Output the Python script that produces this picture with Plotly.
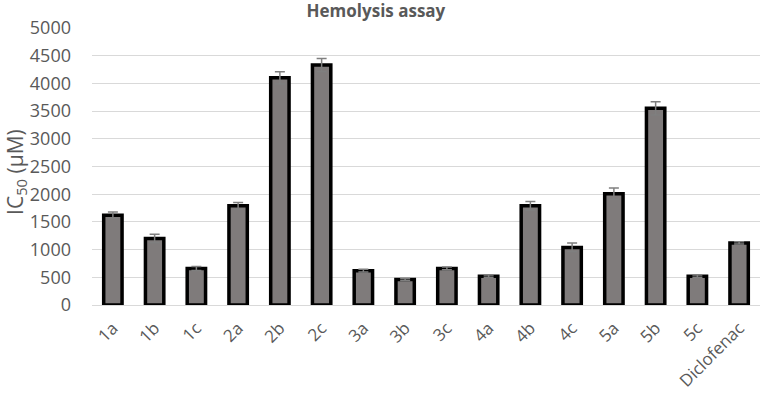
import plotly.graph_objects as go

categories = ["1a", "1b", "1c", "2a", "2b", "2c", "3a", "3b", "3c", "4a",
              "4b", "4c", "5a", "5b", "5c", "Diclofenac"]
ic50_values = [1620, 1200, 660, 1790, 4100, 4330, 620, 460, 660, 520,
               1790, 1040, 2010, 3550, 520, 1120]
ic50_errors = [60, 75, 35, 60, 110, 120, 25, 20, 25, 20,
               80, 80, 100, 120, 20, 20]
y_ticks = [0, 500, 1000, 1500, 2000, 2500, 3000, 3500, 4000, 4500, 5000]

grey_text = "#595959"
font_family = "Open Sans, DejaVu Sans, sans-serif"

fig = go.Figure()
fig.add_trace(go.Bar(
    x=categories,
    y=ic50_values,
    marker=dict(color="#7f7b7b", line=dict(color="#000000", width=3.5)),
    error_y=dict(type="data", array=ic50_errors, visible=True,
                 color="#7f7f7f", thickness=1.5, width=5),
    width=0.44,
))

fig.update_layout(
    width=761, height=396,
    margin=dict(l=92, r=1, t=28, b=91, pad=0),
    paper_bgcolor="white", plot_bgcolor="white",
    showlegend=False,
    title=dict(text="<b>Hemolysis assay</b>", x=0.494, xanchor="center",
               y=0.971, yanchor="middle",
               font=dict(family=font_family, size=17, color=grey_text)),
    font=dict(family=font_family, color=grey_text),
    annotations=[dict(
        text="IC<sub>50</sub> (µM)", textangle=-90,
        xref="paper", yref="paper", x=-0.114, y=0.48,
        xanchor="center", yanchor="middle", showarrow=False,
        font=dict(family=font_family, size=21, color=grey_text),
    )],
)
fig.update_yaxes(
    range=[0, 5000], tickvals=y_ticks, ticktext=[str(v) for v in y_ticks],
    automargin=False,
    showgrid=True, gridcolor="#d9d9d9", gridwidth=1,
    zeroline=True, zerolinecolor="#d9d9d9", zerolinewidth=1,
    showline=False, ticks="", ticklabelstandoff=20,
    tickfont=dict(family=font_family, size=18, color=grey_text),
)
fig.update_xaxes(
    automargin=False,
    tickangle=-45, showgrid=False, showline=False, ticks="",
    ticklabelstandoff=9,
    tickfont=dict(family=font_family, size=17, color=grey_text),
)

fig.write_html(
    "out.html",
    config={"displayModeBar": False},
    post_script="document.body.style.margin='0';document.body.style.padding='0';",
)
